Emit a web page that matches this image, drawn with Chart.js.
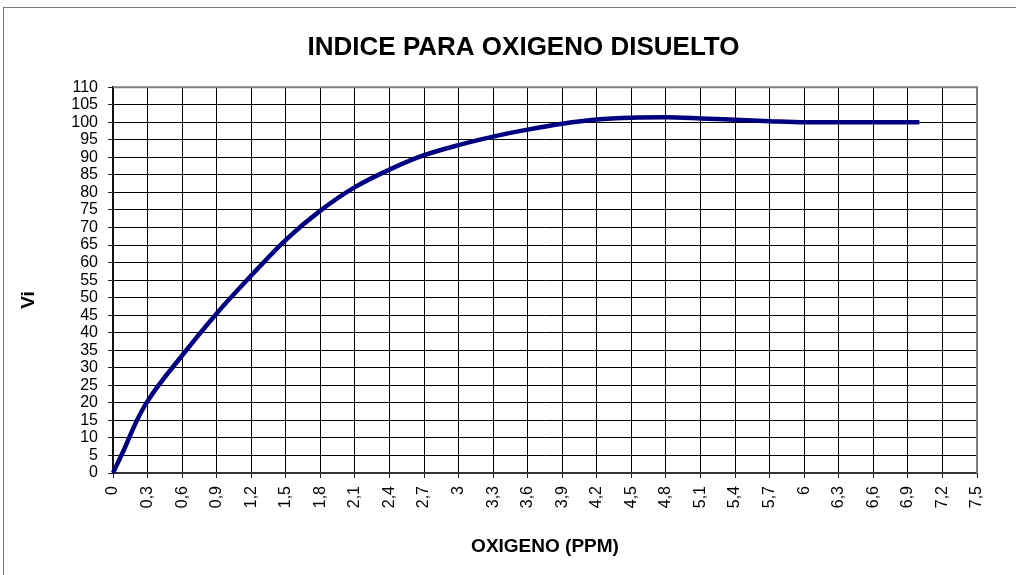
<!DOCTYPE html>
<html>
<head>
<meta charset="utf-8">
<script src="https://cdn.jsdelivr.net/npm/chart.js@4.4.0/dist/chart.umd.min.js"></script>
<style>
body { margin: 0; background: #fff; }
</style>
</head>
<body>
<canvas id="mycanvas" width="1016" height="575"></canvas>
<script>
// oxygen (ppm) and index values
var oxigeno = [0, 0.1, 0.2, 0.3, 0.6, 0.9, 1.2, 1.5, 1.8, 2.1, 2.4, 2.7, 3, 3.3, 3.6, 3.9, 4.2, 4.5, 4.8, 5.1, 5.4, 5.7, 6, 6.5, 7];
var indice = [0, 7, 14.5, 20.5, 33.5, 45.5, 56.3, 66.5, 74.8, 81.5, 86.5, 90.6, 93.5, 95.9, 97.9, 99.6, 100.8, 101.3, 101.4, 101.1, 100.7, 100.3, 100, 100, 100];

var xTicks = [0, 0.3, 0.6, 0.9, 1.2, 1.5, 1.8, 2.1, 2.4, 2.7, 3, 3.3, 3.6, 3.9, 4.2, 4.5, 4.8, 5.1, 5.4, 5.7, 6, 6.3, 6.6, 6.9, 7.2, 7.5];
var xTickLabels = ['0', '0,3', '0,6', '0,9', '1,2', '1,5', '1,8', '2,1', '2,4', '2,7', '3', '3,3', '3,6', '3,9', '4,2', '4,5', '4,8', '5,1', '5,4', '5,7', '6', '6,3', '6,6', '6,9', '7,2', '7,5'];
var yTicks = [0, 5, 10, 15, 20, 25, 30, 35, 40, 45, 50, 55, 60, 65, 70, 75, 80, 85, 90, 95, 100, 105, 110];

var FONT = 'Arial, "Liberation Sans", sans-serif';

var points = [];
for (var i in oxigeno) {
	points.push({x: oxigeno[i], y: indice[i]});
}

var framePlugin = {
	id: 'frame',
	afterDraw: function(chart) {
		var ctx = chart.ctx;
		var a = chart.chartArea;
		ctx.save();
		// outer chart border
		ctx.strokeStyle = '#777';
		ctx.lineWidth = 1;
		ctx.strokeRect(3.5, 7.5, 1100, 700);
		// plot area border, top and right
		ctx.strokeStyle = '#808080';
		ctx.lineWidth = 2;
		ctx.beginPath();
		ctx.moveTo(a.left, a.top);
		ctx.lineTo(a.right, a.top);
		ctx.lineTo(a.right, a.bottom);
		ctx.stroke();
		// y axis title
		ctx.fillStyle = '#000';
		ctx.font = 'bold 19px ' + FONT;
		ctx.translate(29, 300);
		ctx.rotate(-Math.PI / 2);
		ctx.textAlign = 'center';
		ctx.textBaseline = 'middle';
		ctx.fillText('Vi', 0, 0);
		ctx.restore();
	}
};

var gridOpts = {
	color: '#000',
	lineWidth: 1,
	borderDash: [1, 1],
	tickLength: 5,
	tickColor: '#222',
	tickBorderDash: [],
	tickWidth: 1
};

var ctx = document.getElementById('mycanvas');

var chart = new Chart(ctx, {
	type: 'line',
	data: {
		datasets: [{
			label: 'Vi',
			data: points,
			borderColor: '#000080',
			borderWidth: 4.5,
			pointRadius: 0,
			fill: false,
			cubicInterpolationMode: 'monotone',
			clip: false
		}]
	},
	options: {
		responsive: false,
		animation: false,
		layout: { padding: { left: 70, right: 39, top: 0, bottom: 0 } },
		plugins: {
			legend: { display: false },
			tooltip: { enabled: false },
			title: {
				display: true,
				text: 'INDICE PARA OXIGENO DISUELTO',
				color: '#000',
				font: { family: FONT, size: 26, weight: 'bold' },
				padding: { top: 32, bottom: 24 }
			}
		},
		scales: {
			x: {
				type: 'linear',
				min: 0,
				max: 7.5,
				afterBuildTicks: function(scale) {
					scale.ticks = xTicks.map(function(v) { return {value: v}; });
				},
				afterFit: function(scale) { scale.height = 102; },
				grid: gridOpts,
				border: { display: true, color: '#333', width: 2 },
				ticks: {
					autoSkip: false,
					minRotation: 90,
					maxRotation: 90,
					padding: 8,
					color: '#000',
					font: { family: FONT, size: 16 },
					callback: function(value, index) { return xTickLabels[index]; }
				},
				title: {
					display: true,
					text: 'OXIGENO (PPM)',
					color: '#000',
					font: { family: FONT, size: 19, weight: 'bold' },
					padding: { top: 0, bottom: 17 }
				}
			},
			y: {
				min: 0,
				max: 110,
				afterBuildTicks: function(scale) {
					scale.ticks = yTicks.map(function(v) { return {value: v}; });
				},
				afterFit: function(scale) { scale.width = 43; },
				grid: gridOpts,
				border: { display: true, color: '#111', width: 2 },
				ticks: {
					autoSkip: false,
					padding: 10,
					color: '#000',
					font: { family: FONT, size: 16 }
				}
			}
		}
	},
	plugins: [framePlugin]
});
</script>
</body>
</html>
